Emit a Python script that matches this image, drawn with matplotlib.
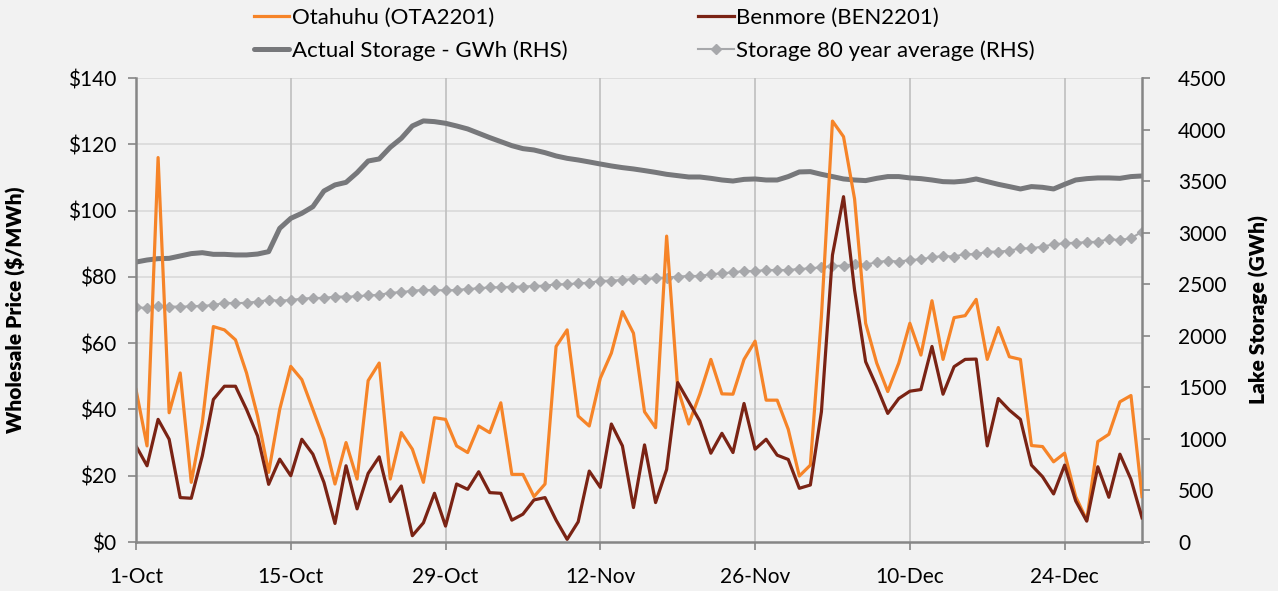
import pandas as pd
import matplotlib
matplotlib.use('Agg')
from matplotlib import pyplot as plt

plt.rcParams['font.family'] = ['Lato', 'DejaVu Sans']

# daily data, 1-Oct to 31-Dec
dates = pd.date_range('2014-10-01', '2014-12-31', freq='D')

otahuhu = [46, 29, 116, 39, 51, 18, 36, 65, 64, 61, 51, 38, 21, 40, 53, 49, 40, 31, 17.5, 30,
           19, 48.7, 54, 19, 33, 28, 18, 37.5, 37, 29, 27, 35, 33, 42, 20.4, 20.4, 13.7, 17.5,
           59, 64, 38, 35, 49.4, 57, 69.5, 63, 39.3, 34.5, 92.3, 46.4, 35.6, 44.6, 55.1, 44.7,
           44.6, 55.1, 60.6, 42.8, 42.8, 34, 19.9, 23.2, 68, 127, 122.3, 103.5, 66, 54, 45.4,
           54, 66, 56.4, 72.8, 55.1, 67.7, 68.3, 73.2, 55.1, 64.7, 55.9, 55.1, 29.1, 28.8,
           24.2, 26.8, 13.7, 6.6, 30.3, 32.5, 42.3, 44.2, 13.7]

benmore = [29, 23, 37, 31, 13.4, 13.2, 26, 43, 47, 47, 40, 32, 17.4, 25, 20, 31, 26.5, 18,
           5.6, 23, 10, 20.7, 25.7, 12.2, 16.9, 1.9, 5.8, 14.7, 4.8, 17.5, 15.9, 21.2, 14.9,
           14.7, 6.6, 8.4, 12.7, 13.4, 6.6, 0.8, 6.1, 21.4, 16.5, 35.6, 29, 10.4, 29.3, 11.9,
           21.9, 48.1, 42.3, 36.5, 26.8, 32.8, 27, 41.8, 28, 31, 26.2, 24.9, 16.2, 17.2, 39.3,
           86.6, 104.2, 76, 54.4, 46.9, 38.8, 43.3, 45.5, 46, 59, 44.6, 52.9, 55.1, 55.2, 29,
           43.3, 39.8, 37, 23.2, 19.7, 14.5, 23.2, 12.4, 6.3, 22.7, 13.5, 26.5, 18.9, 7.3]

storage = [2715, 2735, 2748, 2751, 2774, 2797, 2806, 2790, 2790, 2784, 2784, 2793, 2816, 3042,
           3139, 3188, 3252, 3404, 3463, 3488, 3582, 3695, 3715, 3828, 3915, 4035, 4084, 4077,
           4061, 4035, 4006, 3964, 3922, 3883, 3844, 3815, 3802, 3776, 3744, 3721, 3705, 3686,
           3666, 3647, 3631, 3618, 3602, 3585, 3566, 3553, 3540, 3540, 3527, 3511, 3501, 3517,
           3521, 3511, 3511, 3544, 3589, 3592, 3566, 3544, 3521, 3511, 3505, 3527, 3544, 3544,
           3531, 3524, 3511, 3495, 3492, 3501, 3521, 3495, 3469, 3447, 3424, 3447, 3440, 3424,
           3469, 3511, 3524, 3531, 3531, 3527, 3544, 3550]

storage_avg = [2276, 2270, 2289, 2283, 2283, 2285, 2292, 2296, 2321, 2315, 2321, 2331, 2347,
               2341, 2347, 2360, 2367, 2367, 2380, 2380, 2382, 2393, 2396, 2418, 2422, 2438,
               2444, 2444, 2440, 2444, 2454, 2460, 2470, 2470, 2477, 2477, 2483, 2486, 2499,
               2499, 2509, 2515, 2532, 2535, 2541, 2551, 2551, 2557, 2564, 2574, 2580, 2580,
               2596, 2606, 2615, 2628, 2628, 2638, 2638, 2638, 2648, 2654, 2664, 2677, 2680,
               2696, 2690, 2713, 2729, 2719, 2735, 2742, 2761, 2774, 2768, 2793, 2790, 2816,
               2816, 2826, 2848, 2848, 2865, 2887, 2897, 2903, 2907, 2913, 2936, 2929, 2945, 3010]

tick_dates = pd.to_datetime(['2014-10-01', '2014-10-15', '2014-10-29', '2014-11-12',
                             '2014-11-26', '2014-12-10', '2014-12-24'])
tick_labels = ['1-Oct', '15-Oct', '29-Oct', '12-Nov', '26-Nov', '10-Dec', '24-Dec']

bg = '#f2f2f2'
spine = '#868686'

fig = plt.figure(figsize=(12.78, 5.91), dpi=100, facecolor=bg)
ax = fig.add_axes([0.1064, 0.0829, 0.7872, 0.7851])
ax.set_facecolor(bg)
ax2 = ax.twinx()

# storage on the right axis, drawn below the price lines
ax.set_zorder(ax2.get_zorder() + 1)
ax.patch.set_visible(False)
ax2.set_facecolor(bg)

l3, = ax2.plot(dates, storage, color='#77787b', linewidth=3.6, solid_capstyle='round',
               label='Actual Storage - GWh (RHS)')
l4, = ax2.plot(dates, storage_avg, color='#a7a8ab', linewidth=1.5, marker='D', markersize=5,
               label='Storage 80 year average (RHS)')
l1, = ax.plot(dates, otahuhu, color='#f68428', linewidth=2.3, label='Otahuhu (OTA2201)')
l2, = ax.plot(dates, benmore, color='#7a2314', linewidth=2.3, label='Benmore (BEN2201)')

ax.set_ylim(0, 140)
ax.set_yticks(range(0, 141, 20))
ax.set_yticklabels(['$%d' % v for v in range(0, 141, 20)])
ax2.set_ylim(0, 4500)
ax2.set_yticks(range(0, 4501, 500))
ax.set_xlim(dates[0], dates[-1])
ax.set_xticks(tick_dates)
ax.set_xticklabels(tick_labels)

ax2.grid(False)
for v in range(20, 141, 20):
    ax2.axhline(v / 140 * 4500, color='#d9d9d9', linewidth=1.2, zorder=0)
for d in tick_dates[1:]:
    ax2.axvline(d, color='#bfbfbf', linewidth=1.2, zorder=0)

for a in (ax, ax2):
    for s in a.spines.values():
        s.set_visible(False)
ax.spines['left'].set_visible(True)
ax.spines['bottom'].set_visible(True)
ax2.spines['right'].set_visible(True)
for s in (ax.spines['left'], ax.spines['bottom'], ax2.spines['right']):
    s.set_color(spine)
    s.set_linewidth(1.8)

ax.tick_params(axis='y', labelsize=15, color=spine, length=6, width=1.2, direction='out', pad=8)
ax.tick_params(axis='x', labelsize=15, color=spine, length=6, width=1.2, direction='out', pad=12)
ax2.tick_params(axis='y', labelsize=15, color=spine, length=6, width=1.2, direction='out', pad=20)

ax.set_ylabel('Wholesale Price ($/MWh)', fontsize=15, fontweight='heavy', labelpad=30)
ax2.set_ylabel('Lake Storage (GWh)', fontsize=15, fontweight='heavy', labelpad=16)

fig.legend(handles=[l1, l3, l2, l4], ncol=2, loc='upper left', bbox_to_anchor=(0.183, 1.02),
           frameon=False, fontsize=16, handlelength=1.6, handletextpad=0.1,
           columnspacing=5.9, labelspacing=0.55)

plt.savefig('out.png', dpi=100, facecolor=bg)
